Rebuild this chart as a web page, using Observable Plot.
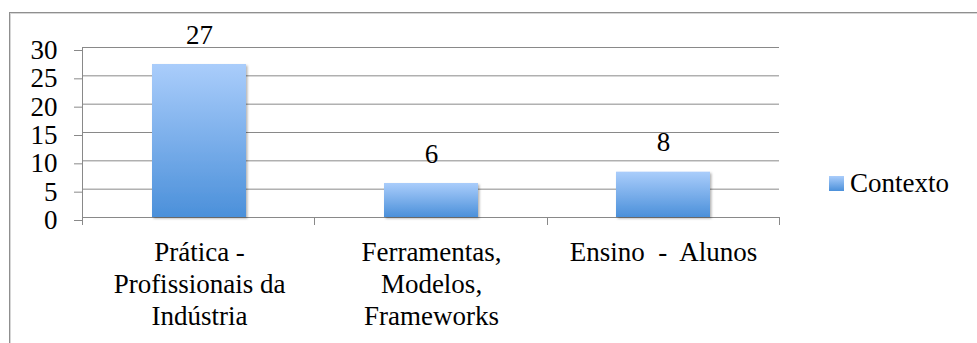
<!DOCTYPE html>
<html>
<head>
<meta charset="utf-8">
<script src="https://cdn.jsdelivr.net/npm/d3@7"></script>
<script src="https://cdn.jsdelivr.net/npm/@observablehq/plot@0.6"></script>
<style>
  html, body { margin: 0; padding: 0; background: #fff; }
  #wrap { position: relative; width: 977px; height: 343px; overflow: hidden; background: #fff; }
  #border { position: absolute; left: 9px; top: 12px; width: 1000px; height: 400px;
            border: 1px solid #8f8f8f; box-shadow: inset 1px 1px 0 #d6d6d6; }
  #chart { position: absolute; left: 0; top: 0; }
  #chart svg text { white-space: pre; }
  #legend { position: absolute; left: 829px; top: 168px; display: flex; align-items: center;
            font-family: "Liberation Serif", serif; font-size: 27px; color: #000; }
  #legend .sw { width: 15px; height: 15px; margin-right: 6px;
                background: linear-gradient(#aacdfb, #4b90da); }
</style>
</head>
<body>
<div id="wrap">
  <div id="border"></div>
  <div id="chart"></div>
  <div id="legend"><span class="sw"></span><span id="legendText"></span></div>
</div>
<script>
const categories = ["Prática -\nProfissionais da\nIndústria", "Ferramentas,\nModelos,\nFrameworks", "Ensino  -  Alunos"];
const values = [27, 6, 8];
const seriesName = "Contexto";
const yTicks = [0, 5, 10, 15, 20, 25, 30];

const data = categories.map((c, i) => ({category: c, value: values[i]}));

const W = 977, H = 343;
const mL = 82, mR = 198, mT = 47, mB = 126;
const font = "'Liberation Serif', serif";
const gridColor = "#898989";

const boundaryMark = (index, scales, values, dims) => {
  const g = d3.create("svg:g");
  const n = categories.length;
  const step = (dims.width - dims.marginLeft - dims.marginRight) / n;
  const y0 = dims.height - dims.marginBottom;
  g.append("line")
    .attr("x1", dims.marginLeft + 0.5).attr("x2", dims.marginLeft + 0.5)
    .attr("y1", dims.marginTop).attr("y2", y0 + 8)
    .attr("stroke", gridColor);
  for (let i = 1; i <= n; i++) {
    const x = dims.marginLeft + i * step;
    g.append("line")
      .attr("x1", Math.round(x) + 0.5).attr("x2", Math.round(x) + 0.5)
      .attr("y1", y0).attr("y2", y0 + 8)
      .attr("stroke", gridColor);
  }
  return g.node();
};

const plot = Plot.plot({
  width: W,
  height: H,
  marginLeft: mL,
  marginRight: mR,
  marginTop: mT,
  marginBottom: mB,
  style: {fontFamily: font, fontSize: "27px", color: "#000", background: "transparent"},
  x: {domain: categories, paddingInner: 0.595, paddingOuter: 0.2975, label: null},
  y: {domain: [0, 30], label: null},
  marks: [
    Plot.gridY(yTicks, {stroke: gridColor, strokeOpacity: 1}),
    Plot.axisY(yTicks, {tickSize: 8, tickPadding: 17, stroke: gridColor, fontSize: 27, dy: 3, label: null}),
    Plot.axisX({tickSize: 0, tickPadding: 21, fontSize: 27, lineHeight: 1.18, label: null}),
    Plot.barY(data, {x: "category", y: "value", fill: "url(#barGrad)", className: "bars"}),
    Plot.text(data, {x: "category", y: "value", text: d => String(d.value), lineAnchor: "bottom", dy: -21, fontSize: 27}),
    boundaryMark
  ]
});

const svg = d3.select(plot);
const defs = svg.insert("defs", ":first-child");
const grad = defs.append("linearGradient").attr("id", "barGrad")
  .attr("x1", 0).attr("y1", 0).attr("x2", 0).attr("y2", 1);
grad.append("stop").attr("offset", "0%").attr("stop-color", "#aacdfb");
grad.append("stop").attr("offset", "100%").attr("stop-color", "#4b90da");
const filt = defs.append("filter").attr("id", "shadow")
  .attr("x", "-10%").attr("y", "-10%").attr("width", "130%").attr("height", "130%");
filt.append("feDropShadow").attr("dx", 1.5).attr("dy", 1.5).attr("stdDeviation", 1.2)
  .attr("flood-color", "#000").attr("flood-opacity", 0.3);
svg.selectAll("g.bars").attr("filter", "url(#shadow)");

document.getElementById("chart").appendChild(plot);
document.getElementById("legendText").textContent = seriesName;
</script>
</body>
</html>
